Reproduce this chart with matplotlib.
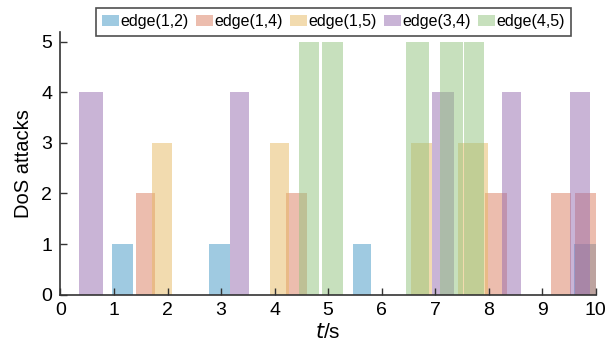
import numpy as np
import matplotlib.pyplot as plt

plt.rcParams['font.family'] = ['Liberation Sans', 'DejaVu Sans']

# attack intervals per edge: start time, end time (s), number of DoS attacks
labels = ['edge(1,2)', 'edge(1,4)', 'edge(1,5)', 'edge(3,4)', 'edge(4,5)']

e12_start = [0.97, 2.78, 5.47, 9.60]
e12_end = [1.36, 3.17, 5.81, 10.00]
e12_val = [1, 1, 1, 1]

e14_start = [1.41, 4.22, 7.93, 9.16, 9.61]
e14_end = [1.77, 4.61, 8.34, 9.55, 10.00]
e14_val = [2, 2, 2, 2, 2]

e15_start = [1.71, 3.92, 6.55, 7.43]
e15_end = [2.08, 4.27, 6.95, 7.99]
e15_val = [3, 3, 3, 3]

e34_start = [0.34, 3.17, 6.95, 8.25, 9.52]
e34_end = [0.79, 3.52, 7.36, 8.60, 9.89]
e34_val = [4, 4, 4, 4, 4]

e45_start = [4.46, 4.89, 6.46, 7.10, 7.54]
e45_end = [4.84, 5.28, 6.89, 7.52, 7.92]
e45_val = [5, 5, 5, 5, 5]

starts = [e12_start, e14_start, e15_start, e34_start, e45_start]
ends = [e12_end, e14_end, e15_end, e34_end, e45_end]
vals = [e12_val, e14_val, e15_val, e34_val, e45_val]
colors = ['#4197c5', '#db7d5f', '#e7b961', '#956baf', '#91c37d']

fig = plt.figure(figsize=(6.08, 3.52), dpi=100)
ax = fig.add_axes([0.0995, 0.163, 0.88, 0.747])

for s, e, v, c, lab in zip(starts, ends, vals, colors, labels):
    s = np.array(s)
    e = np.array(e)
    ax.bar(s, v, width=e - s, align='edge', color=c, alpha=0.5,
           linewidth=0, label=lab)

ax.set_xlim(0, 10)
ax.set_ylim(0, 5.2)
ax.set_xticks(range(0, 11))
ax.set_yticks(range(0, 6))
ax.tick_params(direction='in', labelsize=14, length=5, width=1,
               color='#333333')
ax.tick_params(axis='x', pad=5)
ax.tick_params(axis='y', pad=6)
for side in ['top', 'right']:
    ax.spines[side].set_visible(False)
for side in ['left', 'bottom']:
    ax.spines[side].set_color('#333333')
    ax.spines[side].set_linewidth(1.2)

ax.set_ylabel('DoS attacks', fontsize=14.5, labelpad=6)
ax.set_xlabel('$\\it{t}$/s', fontsize=15, labelpad=3)

leg = fig.legend(loc='upper center', bbox_to_anchor=(0.5485, 0.978), ncol=5,
                 fontsize=11.5, frameon=True, fancybox=False,
                 handlelength=1.05, handleheight=0.6, handletextpad=0.1,
                 columnspacing=0.45, borderpad=0.4, borderaxespad=0)
leg.get_frame().set_edgecolor('#222222')
leg.get_frame().set_linewidth(1.2)

fig.savefig('out.png', dpi=100)
